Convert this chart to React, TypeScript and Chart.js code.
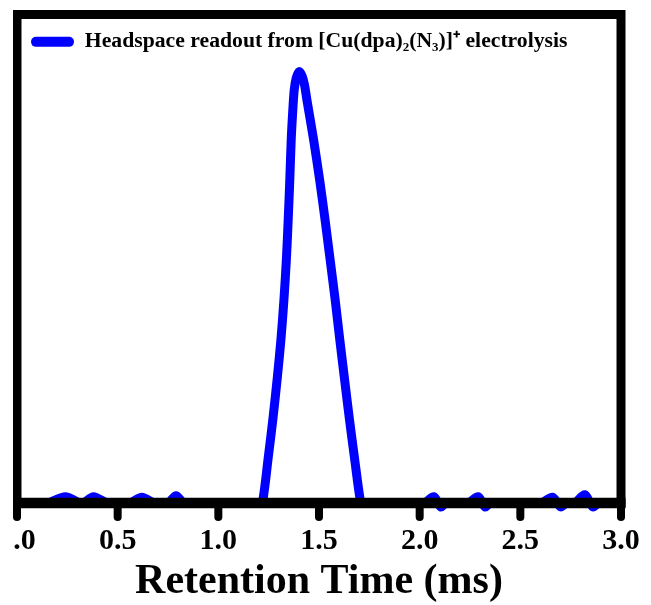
import React, { useEffect, useRef } from "react";
import { Chart, registerables } from "chart.js";

Chart.register(...registerables);

// Retention time (ms) and detector signal (normalised to frame height)
const retentionTime = [
  0.0, 0.15, 0.24, 0.31, 0.33, 0.38, 0.45, 0.56, 0.62, 0.68, 0.75, 0.79, 0.83,
  1.0, 1.16, 1.21,
  1.222, 1.247, 1.271, 1.292, 1.311, 1.326, 1.338, 1.347, 1.355, 1.362, 1.37,
  1.377, 1.387, 1.401, 1.416, 1.428, 1.44, 1.473, 1.503, 1.53, 1.555, 1.58,
  1.603, 1.627, 1.651, 1.677, 1.704,
  1.713, 1.78, 2.02, 2.07, 2.105, 2.13, 2.24, 2.29, 2.325, 2.35, 2.6, 2.66, 2.7,
  2.73, 2.77, 2.82, 2.86, 2.89, 3.0,
];
const signal = [
  0, 0, 0.013, 0, 0, 0.013, 0, 0, 0.012, 0, 0, 0.015, 0,
  0, 0, 0,
  0.008, 0.09, 0.172, 0.253, 0.335, 0.417, 0.499, 0.58, 0.662, 0.744, 0.805,
  0.846, 0.87, 0.883, 0.874, 0.856, 0.825, 0.744, 0.662, 0.58, 0.499, 0.417,
  0.335, 0.253, 0.172, 0.09, 0.008,
  0, 0, 0, 0.013, -0.008, 0, 0, 0.013, -0.008, 0, 0, 0.012, -0.008,
  0, 0, 0.017, -0.008, 0, 0,
];
const xMin = 0;
const xMax = 3.0;
const xStep = 0.5;
const seriesLabel = "Headspace readout from [Cu(dpa)\u2082(N\u2083)]\u207A electrolysis";
const xTitle = "Retention Time (ms)";

const FONT = "'Liberation Serif', 'Times New Roman', serif";
const BLUE = "#0000FF";

const framePlugin = {
  id: "frame",
  afterLayout(chart: any) {
    if (chart.legend) chart.legend.top = chart.chartArea.top + 2.5;
  },
  afterDatasetsDraw(chart: any) {
    const { ctx, chartArea, scales } = chart;
    const { left, top, right, bottom } = chartArea;
    const x = scales.x;
    ctx.save();
    ctx.strokeStyle = "#000";
    ctx.lineWidth = 9;
    ctx.lineJoin = "miter";
    ctx.strokeRect(left, top, right - left, bottom - top);
    ctx.lineWidth = 10.5;
    ctx.lineCap = "butt";
    ctx.beginPath();
    ctx.moveTo(left - 4.5, bottom);
    ctx.lineTo(right + 4.5, bottom);
    ctx.stroke();
    ctx.lineCap = "round";
    ctx.lineWidth = 8;
    for (const t of x.ticks) {
      const px = x.getPixelForValue(t.value);
      ctx.beginPath();
      ctx.moveTo(px, bottom);
      ctx.lineTo(px, bottom + 14);
      ctx.stroke();
    }
    ctx.restore();
  },
};

export default function App() {
  const canvasRef = useRef<HTMLCanvasElement | null>(null);

  useEffect(() => {
    if (!canvasRef.current) return;
    const points = retentionTime.map((t, i) => ({ x: t, y: signal[i] }));
    const chart = new Chart(canvasRef.current, {
      type: "line",
      data: {
        datasets: [
          {
            label: seriesLabel,
            data: points,
            borderColor: BLUE,
            backgroundColor: BLUE,
            borderWidth: 9,
            pointRadius: 0,
            fill: false,
            tension: 0.3,
            borderCapStyle: "round",
            borderJoinStyle: "round",
            clip: false,
          } as any,
        ],
      },
      options: {
        animation: false,
        responsive: true,
        maintainAspectRatio: false,
        layout: { padding: { left: 30, right: 30, top: 14.5, bottom: 2 } },
        plugins: {
          tooltip: { enabled: false },
          legend: {
            position: "chartArea" as any,
            align: "start",
            labels: {
              boxWidth: 43,
              boxHeight: 10,
              padding: 14,
              color: "#000",
              font: { family: FONT, size: 21.7, weight: "bold", lineHeight: 1 },
              generateLabels: (c: any) =>
                Chart.defaults.plugins.legend.labels
                  .generateLabels(c)
                  .map((l: any) => ({
                    ...l,
                    lineWidth: 0,
                    fillStyle: BLUE,
                    strokeStyle: BLUE,
                    borderRadius: 5,
                  })),
            },
          },
        },
        scales: {
          x: {
            type: "linear",
            min: xMin,
            max: xMax,
            border: { display: false },
            grid: {
              display: true,
              drawOnChartArea: false,
              drawTicks: true,
              tickLength: 18,
              color: "rgba(0,0,0,0)",
              tickColor: "rgba(0,0,0,0)",
            },
            ticks: {
              stepSize: xStep,
              autoSkip: false,
              maxRotation: 0,
              padding: 5,
              color: "#000",
              font: { family: FONT, size: 30, weight: "bold", lineHeight: 1 },
              callback: (v: any) => Number(v).toFixed(1),
            },
            title: {
              display: true,
              text: xTitle,
              color: "#000",
              font: { family: FONT, size: 42, weight: "bold", lineHeight: 1 },
              padding: { top: 0, bottom: 0 },
            },
          },
          y: {
            display: false,
            min: 0,
            max: 1,
          },
        },
      },
      plugins: [framePlugin],
    });
    return () => chart.destroy();
  }, []);

  return (
    <div
      style={{
        position: "absolute",
        left: 13,
        top: 0,
        width: 638,
        height: 605,
        overflow: "hidden",
        background: "#fff",
      }}
    >
      <div style={{ position: "absolute", left: -26, top: 0, width: 664, height: 605 }}>
        <canvas ref={canvasRef} />
      </div>
    </div>
  );
}
